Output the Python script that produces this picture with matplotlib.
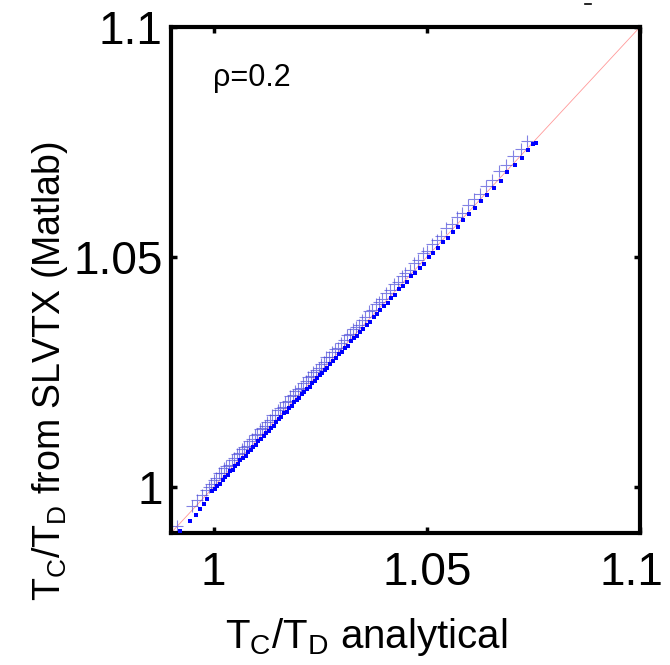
import matplotlib
matplotlib.use("Agg")
import matplotlib.pyplot as plt
import matplotlib.transforms as mtransforms
from matplotlib.lines import Line2D

plt.rcParams['font.family'] = ['Liberation Sans', 'DejaVu Sans']
plt.rcParams['mathtext.fontset'] = 'custom'
plt.rcParams['mathtext.rm'] = 'Liberation Sans'
plt.rcParams['mathtext.it'] = 'Liberation Sans'

# SLVTX results ('+' markers)
cross_x = [0.9915, 0.9950, 0.9962, 0.9972, 0.9981, 0.9988,
           0.9994, 1.0000, 1.0006, 1.0012, 1.0018, 1.0024, 1.0030, 1.0036, 1.0042, 1.0048,
           1.0054, 1.0060, 1.0066, 1.0072, 1.0078, 1.0084, 1.0090, 1.0096, 1.0102, 1.0108,
           1.0114, 1.0120, 1.0126, 1.0132, 1.0138, 1.0144, 1.0150, 1.0156, 1.0162, 1.0168,
           1.0174, 1.0180, 1.0186, 1.0192, 1.0198, 1.0204, 1.0210, 1.0216, 1.0222, 1.0228,
           1.0234, 1.0240, 1.0246, 1.0252, 1.0258, 1.0264, 1.0270, 1.0277, 1.0284, 1.0291,
           1.0298, 1.0305, 1.0312, 1.0319, 1.0326, 1.0333, 1.0340, 1.0348, 1.0356, 1.0364,
           1.0372, 1.0380, 1.0388, 1.0396, 1.0405, 1.0414, 1.0423, 1.0432, 1.0441, 1.0450,
           1.0460, 1.0470, 1.0480, 1.0490, 1.0501, 1.0512, 1.0523, 1.0534, 1.0546, 1.0558,
           1.0570, 1.0583, 1.0596, 1.0610, 1.0624, 1.0639, 1.0654, 1.0670, 1.0686, 1.0703,
           1.0720, 1.0735]
cross_y = [0.9916, 0.9958, 0.9972, 0.9983, 0.9993, 1.0001,
           1.0006, 1.0016, 1.0020, 1.0030, 1.0031, 1.0041, 1.0045, 1.0048, 1.0058, 1.0062,
           1.0072, 1.0073, 1.0083, 1.0087, 1.0090, 1.0100, 1.0104, 1.0114, 1.0115, 1.0125,
           1.0129, 1.0132, 1.0142, 1.0146, 1.0156, 1.0157, 1.0167, 1.0171, 1.0174, 1.0184,
           1.0188, 1.0198, 1.0199, 1.0209, 1.0213, 1.0216, 1.0226, 1.0230, 1.0240, 1.0241,
           1.0251, 1.0255, 1.0258, 1.0268, 1.0272, 1.0282, 1.0283, 1.0294, 1.0299, 1.0303,
           1.0314, 1.0319, 1.0330, 1.0332, 1.0343, 1.0348, 1.0352, 1.0364, 1.0370, 1.0382,
           1.0385, 1.0397, 1.0403, 1.0408, 1.0421, 1.0428, 1.0441, 1.0445, 1.0458, 1.0465,
           1.0472, 1.0486, 1.0494, 1.0508, 1.0514, 1.0529, 1.0538, 1.0546, 1.0562, 1.0572,
           1.0588, 1.0596, 1.0613, 1.0625, 1.0636, 1.0655, 1.0668, 1.0688, 1.0699, 1.0720,
           1.0735, 1.0752]

# Analytical reference ('.' markers)
dot_x = [0.9922, 0.9945, 0.9958, 0.9968, 0.9977, 0.9985,
         0.9997, 1.0003, 1.0009, 1.0015, 1.0021, 1.0027, 1.0033, 1.0039, 1.0045, 1.0051,
         1.0057, 1.0063, 1.0069, 1.0075, 1.0081, 1.0087, 1.0093, 1.0099, 1.0105, 1.0111,
         1.0117, 1.0123, 1.0129, 1.0135, 1.0141, 1.0147, 1.0153, 1.0159, 1.0165, 1.0171,
         1.0177, 1.0183, 1.0189, 1.0195, 1.0201, 1.0207, 1.0213, 1.0219, 1.0225, 1.0231,
         1.0237, 1.0243, 1.0249, 1.0255, 1.0261, 1.0267, 1.0273, 1.0280, 1.0287, 1.0294,
         1.0301, 1.0308, 1.0315, 1.0322, 1.0329, 1.0336, 1.0343, 1.0351, 1.0359, 1.0367,
         1.0375, 1.0383, 1.0391, 1.0399, 1.0408, 1.0417, 1.0426, 1.0435, 1.0444, 1.0453,
         1.0463, 1.0473, 1.0483, 1.0493, 1.0504, 1.0515, 1.0526, 1.0537, 1.0549, 1.0561,
         1.0573, 1.0586, 1.0599, 1.0613, 1.0627, 1.0642, 1.0657, 1.0673, 1.0689, 1.0706,
         1.0723, 1.0738, 1.0750, 1.0755]
dot_y = [0.9905, 0.9926, 0.9940, 0.9952, 0.9963, 0.9973,
         0.9992, 0.9996, 1.0003, 1.0007, 1.0016, 1.0021, 1.0026, 1.0034, 1.0038, 1.0045,
         1.0049, 1.0058, 1.0063, 1.0068, 1.0076, 1.0080, 1.0087, 1.0091, 1.0100, 1.0105,
         1.0110, 1.0118, 1.0122, 1.0129, 1.0133, 1.0142, 1.0147, 1.0152, 1.0160, 1.0164,
         1.0171, 1.0175, 1.0184, 1.0189, 1.0194, 1.0202, 1.0206, 1.0213, 1.0217, 1.0226,
         1.0231, 1.0236, 1.0244, 1.0248, 1.0255, 1.0259, 1.0268, 1.0274, 1.0280, 1.0289,
         1.0294, 1.0302, 1.0307, 1.0317, 1.0323, 1.0329, 1.0338, 1.0344, 1.0353, 1.0359,
         1.0370, 1.0377, 1.0384, 1.0394, 1.0401, 1.0411, 1.0418, 1.0430, 1.0438, 1.0446,
         1.0458, 1.0466, 1.0477, 1.0485, 1.0499, 1.0509, 1.0519, 1.0532, 1.0542, 1.0555,
         1.0565, 1.0581, 1.0593, 1.0606, 1.0622, 1.0635, 1.0651, 1.0665, 1.0684, 1.0700,
         1.0716, 1.0733, 1.0745, 1.0748]

diag = [0.99, 1.1]
ticks = [1.0, 1.05, 1.1]
tick_labels = ['1', '1.05', '1.1']

fig = plt.figure(figsize=(6.7, 6.65), dpi=100)
ax = fig.add_axes([0.2552, 0.1985, 0.70, 0.7609])

ax.plot(diag, diag, color=(1.0, 0.6, 0.6), lw=0.6, zorder=1)
ax.plot(cross_x, cross_y, linestyle='none', marker='+', markersize=9,
        markeredgewidth=0.8, color=(0.3, 0.3, 0.85), alpha=0.7, zorder=2)
ax.plot(dot_x, dot_y, linestyle='none', marker='s', markersize=3.4,
        markeredgewidth=0, color=(0.0, 0.0, 1.0), zorder=3)

ax.set_xlim(0.99, 1.1)
ax.set_ylim(0.99, 1.1)
ax.set_xticks(ticks)
ax.set_xticklabels(tick_labels)
ax.set_yticks(ticks)
ax.set_yticklabels(tick_labels)
ax.tick_params(direction='in', length=4, width=2.5, labelsize=33,
               top=True, right=True)
ax.tick_params(axis='x', pad=13)
ax.tick_params(axis='y', pad=6)
for sp in ax.spines.values():
    sp.set_linewidth(3)

# keep the last x tick label inside the canvas (as in the reference)
last_lbl = ax.get_xticklabels()[-1]
last_lbl.set_transform(last_lbl.get_transform() +
                       mtransforms.ScaledTranslation(-6 / 72, 0, fig.dpi_scale_trans))

ax.set_xlabel(r'T$_\mathregular{C}$/T$_\mathregular{D}$ analytical', fontsize=29)
ax.xaxis.set_label_coords(0.416, -0.165)
ax.set_ylabel(r'T$_\mathregular{C}$/T$_\mathregular{D}$ from SLVTX (Matlab)', fontsize=27)
ax.yaxis.set_label_coords(-0.215, 0.32)

ax.text(0.0895, 0.899, r'ρ=0.2', transform=ax.transAxes, fontsize=22,
        ha='left', va='center')

fig.add_artist(Line2D([585/670, 591/670], [1 - 4/665, 1 - 4/665],
                      color='black', lw=1.2))

fig.savefig('out.png', dpi=100)
